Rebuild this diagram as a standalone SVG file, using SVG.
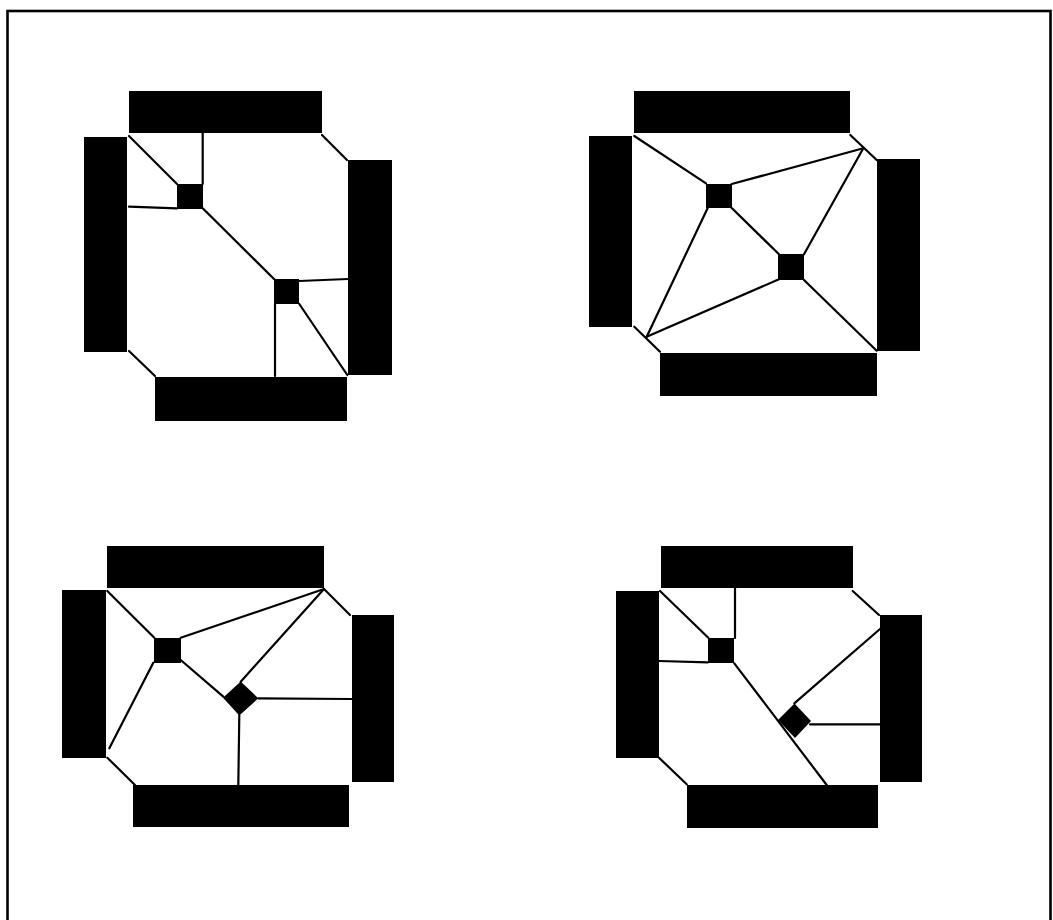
<svg xmlns="http://www.w3.org/2000/svg" width="1053" height="920" viewBox="0 0 1053 920">
<style>
.bar{fill:#000}
.nd{fill:#000}
.ln{stroke:#000;stroke-width:2.2;fill:none;stroke-linecap:round}
</style>
<rect x="0" y="0" width="1053" height="920" fill="#fff"/>
<rect id="frame" x="7.5" y="11" width="1043" height="930" fill="none" stroke="#000" stroke-width="2.6"/>

<!-- Quadrant 1 -->
<g id="q1">
  <g id="q1-top"><rect class="bar" x="129" y="91" width="193" height="42"/></g>
  <g id="q1-left"><rect class="bar" x="84" y="137" width="43" height="215"/></g>
  <g id="q1-right"><rect class="bar" x="348" y="160" width="44" height="215"/></g>
  <g id="q1-bottom"><rect class="bar" x="155" y="377" width="192" height="44"/></g>
  <g id="q1-n1"><rect class="nd" x="177" y="184" width="26" height="25"/></g>
  <g id="q1-n2"><rect class="nd" x="274" y="279" width="25" height="25"/></g>
</g>
<g id="q1-connectors">
  <line class="ln" x1="322" y1="135" x2="347" y2="160"/>
  <line class="ln" x1="129" y1="351" x2="155" y2="376"/>
  <line class="ln" x1="129" y1="136" x2="177" y2="184"/>
  <line class="ln" x1="202.7" y1="133" x2="202.7" y2="184"/>
  <line class="ln" x1="129" y1="206.7" x2="177" y2="208.3"/>
  <line class="ln" x1="202.7" y1="208.3" x2="274.3" y2="279.3"/>
  <line class="ln" x1="299" y1="281" x2="348" y2="279"/>
  <line class="ln" x1="275" y1="304" x2="275" y2="376"/>
  <line class="ln" x1="299.3" y1="304" x2="347.3" y2="375"/>
</g>

<!-- Quadrant 2 -->
<g id="q2">
  <g id="q2-top"><rect class="bar" x="634" y="91" width="216" height="42"/></g>
  <g id="q2-left"><rect class="bar" x="589" y="136" width="43" height="191"/></g>
  <g id="q2-right"><rect class="bar" x="877" y="159" width="43" height="192"/></g>
  <g id="q2-bottom"><rect class="bar" x="660" y="353" width="217" height="43"/></g>
  <g id="q2-n1"><rect class="nd" x="706" y="184" width="26" height="24"/></g>
  <g id="q2-n2"><rect class="nd" x="778" y="254" width="26" height="26"/></g>
</g>
<g id="q2-connectors">
  <line class="ln" x1="850.3" y1="135" x2="876.7" y2="160"/>
  <line class="ln" x1="634.3" y1="326.7" x2="660" y2="351.7"/>
  <line class="ln" x1="634.3" y1="136" x2="706" y2="183.3"/>
  <line class="ln" x1="731.7" y1="184" x2="863.3" y2="148.3"/>
  <line class="ln" x1="707.7" y1="208" x2="646.7" y2="336.7"/>
  <line class="ln" x1="731.7" y1="208" x2="779" y2="254.3"/>
  <line class="ln" x1="804" y1="254.3" x2="863.3" y2="148.3"/>
  <line class="ln" x1="779" y1="279.3" x2="646.7" y2="336.7"/>
  <line class="ln" x1="804" y1="280" x2="876.7" y2="350.7"/>
</g>

<!-- Quadrant 3 -->
<g id="q3">
  <g id="q3-top"><rect class="bar" x="107" y="546" width="217" height="42"/></g>
  <g id="q3-left"><rect class="bar" x="62" y="590" width="44" height="168"/></g>
  <g id="q3-right"><rect class="bar" x="352" y="615" width="42" height="167"/></g>
  <g id="q3-bottom"><rect class="bar" x="133" y="785" width="216" height="42"/></g>
  <g id="q3-n1"><rect class="nd" x="154" y="638" width="27" height="25"/></g>
  <g id="q3-n2"><polygon class="nd" points="240.7,681.5 258.3,698.3 239.3,715.5 223,697.7"/></g>
</g>
<g id="q3-connectors">
  <line class="ln" x1="324" y1="589" x2="350" y2="615"/>
  <line class="ln" x1="107.3" y1="757.7" x2="135" y2="785"/>
  <line class="ln" x1="107.3" y1="591" x2="154.3" y2="637.7"/>
  <line class="ln" x1="180.7" y1="637.7" x2="324" y2="589"/>
  <line class="ln" x1="153.3" y1="662.7" x2="109.3" y2="748.3"/>
  <line class="ln" x1="180.7" y1="660" x2="223.3" y2="696.7"/>
  <line class="ln" x1="240.7" y1="681.7" x2="324" y2="589"/>
  <line class="ln" x1="258.3" y1="698.3" x2="351.7" y2="699"/>
  <line class="ln" x1="239.3" y1="715" x2="238.3" y2="785"/>
</g>

<!-- Quadrant 4 -->
<g id="q4">
  <g id="q4-top"><rect class="bar" x="661" y="546" width="192" height="42"/></g>
  <g id="q4-left"><rect class="bar" x="616" y="591" width="43" height="167"/></g>
  <g id="q4-right"><rect class="bar" x="880" y="615" width="42" height="167"/></g>
  <g id="q4-bottom"><rect class="bar" x="687" y="785" width="191" height="43"/></g>
  <g id="q4-n1"><rect class="nd" x="708" y="638" width="26" height="25"/></g>
  <g id="q4-n2"><polygon class="nd" points="794.5,703.5 811,721 795,738 778,720"/></g>
</g>
<g id="q4-connectors">
  <line class="ln" x1="852.7" y1="591" x2="879" y2="615"/>
  <line class="ln" x1="659" y1="757.7" x2="686.7" y2="784.3"/>
  <line class="ln" x1="660" y1="591" x2="708.3" y2="637.7"/>
  <line class="ln" x1="735" y1="588" x2="735" y2="638"/>
  <line class="ln" x1="659" y1="661" x2="708" y2="662.3"/>
  <line class="ln" x1="734.3" y1="663.3" x2="826.7" y2="785"/>
  <line class="ln" x1="794.3" y1="703.3" x2="880" y2="629"/>
  <line class="ln" x1="810" y1="724.3" x2="880" y2="724.3"/>
</g>
</svg>
